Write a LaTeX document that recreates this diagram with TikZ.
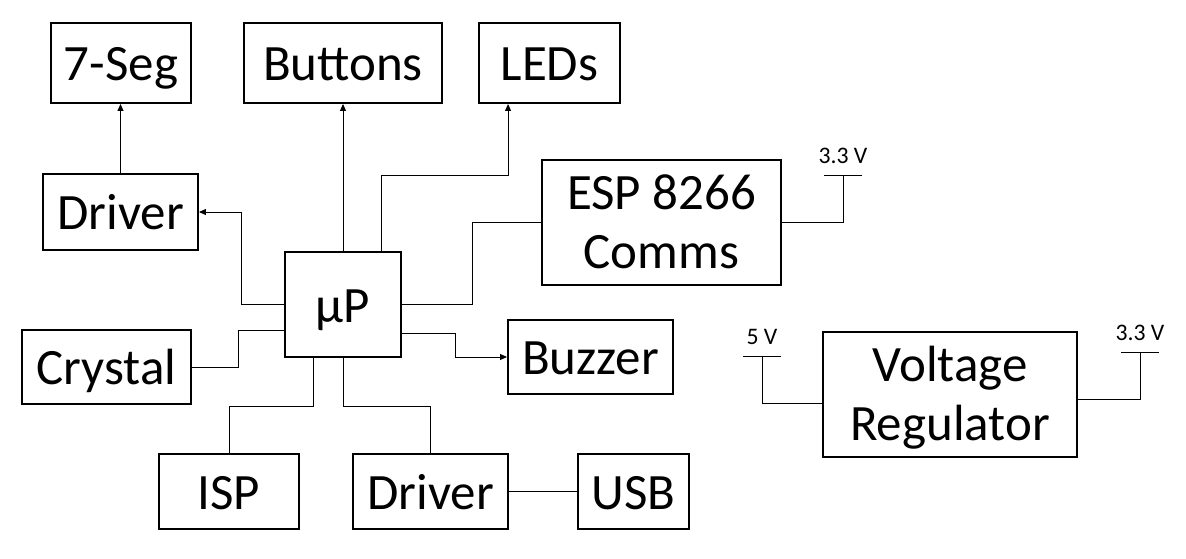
\documentclass[tikz,border=0pt]{standalone}
\usepackage{fontspec}
\setmainfont{Carlito}
\usepackage{tikz}
\usetikzlibrary{calc}
\usetikzlibrary{arrows.meta}
\usetikzlibrary{positioning}

\begin{document}
\begin{tikzpicture}[x=0.02cm, y=-0.02cm,
      block/.style={draw, line width=1.1pt, inner sep=0pt,
        font=\fontsize{29}{34}\selectfont, text height=20pt, text depth=0pt},
      multi block/.style={draw, line width=1.1pt, inner sep=0pt,
        font=\fontsize{29}{34}\selectfont, align=center},
      wire/.style={line width=0.55pt},
      arr/.style={wire, -{Triangle[length=4pt, width=3.4pt]}},
      rail/.style={inner sep=0pt, font=\fontsize{13.5}{16}\selectfont}]
    \useasboundingbox (0,0) rectangle (1186,558);
    \node[block, minimum width=2.8cm, minimum height=1.6cm] (seg) at (121,63) {7-Seg};
    \node[block, minimum width=3.96cm, minimum height=1.6cm] (btn) at (343,63) {Buttons};
    \node[block, minimum width=2.82cm, minimum height=1.6cm] (led) at (549.5,63) {LEDs};
    \node[block, minimum width=3.1cm, minimum height=1.52cm] (drvtop) at (120.5,212) {Driver};
    \node[block, minimum width=2.32cm, minimum height=2.1cm] (mcu) at (343,304.5) {μP};
    \node[multi block, minimum width=4.78cm, minimum height=2.5cm] (esp) at (661.5,222.5)
      {\rule{0pt}{25pt}ESP 8266\\Comms\rule[-6.3pt]{0pt}{6.3pt}};
    \node[block, minimum width=3.38cm, minimum height=1.48cm] (xtal) at (106.5,367) {Crystal};
    \node[block, minimum width=3.3cm, minimum height=1.48cm] (buz) at (590.5,357) {Buzzer};
    \node[block, minimum width=2.8cm, minimum height=1.5cm] (isp) at (229,491.5) {ISP};
    \node[block, minimum width=3.1cm, minimum height=1.5cm] (drvbot) at (430.5,491.5) {Driver};
    \node[block, minimum width=2.22cm, minimum height=1.5cm] (usb) at (633.5,491.5) {USB};
    \node[multi block, minimum width=5.08cm, minimum height=2.5cm] (vreg) at (950,394.5)
      {\rule{0pt}{25pt}Voltage\\Regulator\rule[-6.3pt]{0pt}{6.3pt}};

    \coordinate (espv) at (843,175);
    \coordinate (vin) at (762,356);
    \coordinate (vout) at (1140,352);

    \draw[arr] (drvtop.north) -- (drvtop.north |- seg.south);
    \draw[arr] (mcu.north) -- (btn.south);
    \draw[arr] ($(mcu.north)+(38,0)$) -- ++(0,-76) -| ($(led.south west)+(30,0)$);
    \draw[arr] (mcu.west) -- ++(-43,0) |- (drvtop.east);
    \draw[wire] (mcu.east) -- ++(71,0) |- (esp.west);
    \draw[arr] ($(mcu.east)+(0,29)$) -- ++(54,0) |- (buz.west);
    \draw[wire] ($(mcu.west)+(0,26)$) -- ++(-46,0) |- (xtal.east);
    \draw[wire] ($(mcu.south)+(-30,0)$) -- ++(0,49) -| (isp.north);
    \draw[wire] (mcu.south) -- ++(0,49) -| (drvbot.north);
    \draw[wire] (drvbot.east) -- (usb.west);
    \draw[wire] (esp.east) -| (espv);
    \draw[wire] (vin) |- ($(vreg.west)+(0,8.5)$);
    \draw[wire] ($(vreg.east)+(0,4.5)$) -| (vout);
    \foreach \c/\t in {espv/3.3 V, vin/5 V, vout/3.3 V} {
      \draw[wire] ($(\c)+(-19,0)$) -- ($(\c)+(19,0)$);
      \node[rail, above=0.22cm] (\c lbl) at (\c) {\t};
    }
  \end{tikzpicture}
\end{document}
